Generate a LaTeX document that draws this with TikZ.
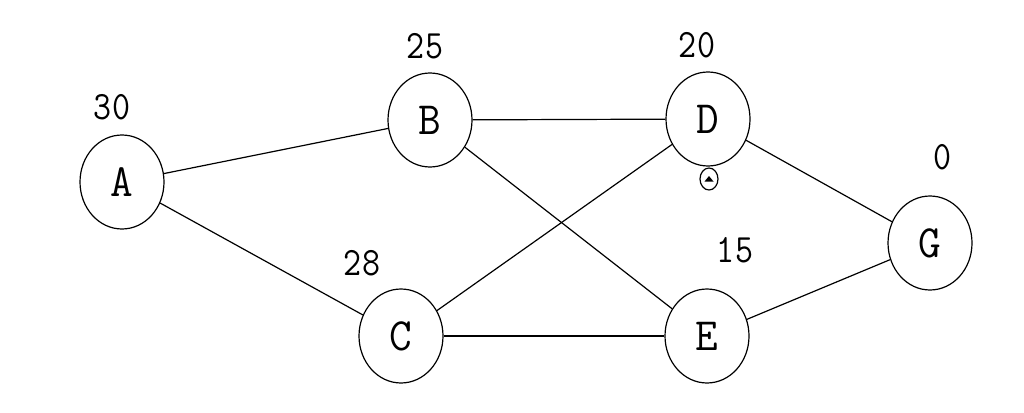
\documentclass[tikz,border=0pt]{standalone}
\usepackage{fontspec}
\usepackage{graphicx}
\usetikzlibrary{shapes.geometric}
\newcommand{\lettxt}[1]{{\ttfamily\fontsize{44}{44}\selectfont\scalebox{1}[1.05]{#1}}}
\newcommand{\numtxt}[1]{{\ttfamily\fontsize{35}{35}\selectfont\scalebox{1}[1.15]{#1}}}
\tikzset{
  vtx/.style={draw, line width=1.2pt, ellipse, minimum width=84pt, minimum height=94pt, inner sep=0pt},
  cost/.style={inner sep=0pt},
  edge/.style={line width=1.2pt},
}
\begin{document}
\begin{tikzpicture}[x=1pt,y=-1pt]
\useasboundingbox[fill=white] (0,0) rectangle (1024,412);
\node[vtx] (A) at (122,182) {\lettxt{A}};
\node[vtx] (B) at (430,120) {\lettxt{B}};
\node[vtx] (C) at (401,336) {\lettxt{C}};
\node[vtx] (D) at (708,119) {\lettxt{D}};
\node[vtx] (E) at (707,336) {\lettxt{E}};
\node[vtx] (G) at (930,243) {\lettxt{G}};
\node[cost] (lA) at (112,107) {\numtxt{30}};
\node[cost] (lB) at (425,46) {\numtxt{25}};
\node[cost] (lD) at (697,45) {\numtxt{20}};
\node[cost] (lC) at (362,263) {\numtxt{28}};
\node[cost] (lE) at (735,250) {\numtxt{15}};
\node[cost] (lG) at (942,157) {\numtxt{0}};
\node[draw, line width=1.2pt, ellipse, minimum width=18pt, minimum height=22pt, inner sep=0pt] (m) at (709,179) {};
\fill ([xshift=-4.5pt,yshift=-2.5pt]m.center) -- ([xshift=4.5pt,yshift=-2.5pt]m.center) -- ([yshift=3pt]m.center) -- cycle;
\draw[edge] (A) -- (B);
\draw[edge] (A) -- (C);
\draw[edge] (B) -- (D);
\draw[edge] (B) -- (E);
\draw[edge] (C) -- (D);
\draw[edge] (C) -- (E);
\draw[edge] (D) -- (G);
\draw[edge] (E) -- (G);
\end{tikzpicture}
\end{document}
